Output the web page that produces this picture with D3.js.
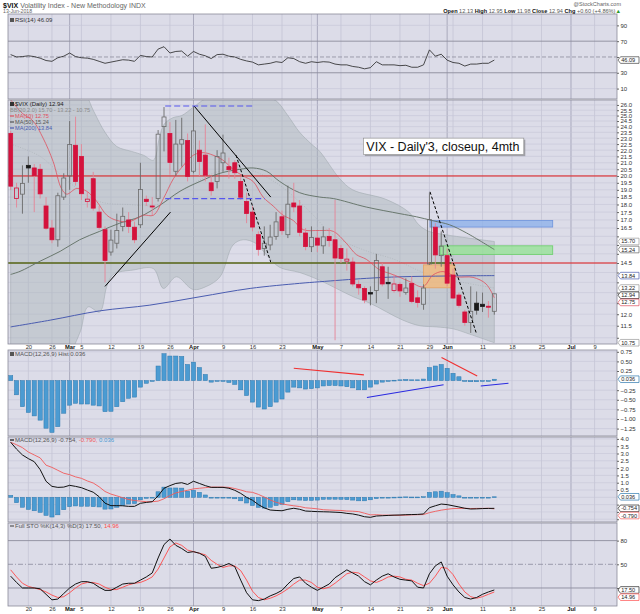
<!DOCTYPE html>
<html lang="en">
<head>
<meta charset="UTF-8">
<title>$VIX Daily - StockCharts style</title>
<script src="https://d3js.org/d3.v7.min.js"></script>
<style>
  body { margin: 0; background: #fff; }
  svg text { font-family: "Liberation Sans", Arial, sans-serif; }
</style>
</head>
<body>
<svg id="chart" width="640" height="614"></svg>
<script>
// ---- data ----
const holidays = ["2018-02-19", "2018-03-30", "2018-05-28", "2018-07-04"];
const prevClose = 24.97; // close before the first bar

const opens = [23.4,18.4,18.7,20.8,20.6,20.5,17.9,16.5,15.8,18.5, 20.0,22.4,21.5,18.2,19.8,17.5,16.4,15.1,15.6,16.6,
  17.0,16.55,16.7,18.35,17.9,18.4,24.0,23.4,20.35,22.5, 22.8,20.35,22.0,21.6,19.5,19.6,21.0,20.7,21.0,19.6,
  18.2,17.5,16.1,15.3,15.5,16.0,17.2,16.1,18.1,17.9, 16.2,15.4,15.9,15.45,16.0,15.8,15.3,14.6,14.55,13.4,
  13.2,13.0,13.1,14.3,13.5,13.1,13.4,13.0,13.45,12.75, 12.45,14.45,16.55,14.9,14.9,13.87,12.88,12.1,11.64,12.5,
  12.45,12.36,12.13];
const highs = [23.6,19.5,20.8,21.5,20.9,20.9,18.5,17.0,18.8,20.2, 24.5,24.9,22.5,18.9,20.3,17.9,16.6,16.4,17.4,17.8,
  17.5,16.9,21.0,18.6,18.5,23.7,25.8,24.4,24.6,24.8, 23.4,25.9,22.8,24.2,20.0,22.0,23.3,21.4,21.2,19.9,
  18.8,17.9,16.3,16.6,16.7,17.5,17.6,19.3,19.5,18.3, 16.5,16.6,16.3,16.6,16.5,18.3,15.5,15.3,14.8,13.6,
  13.3,13.3,15.0,14.5,14.3,13.9,13.5,13.7,13.8,13.1, 13.4,18.8,16.8,16.3,15.3,14.2,13.0,12.2,13.3,13.05,
  13.0,12.6,12.95];
const lows = [19.0,17.8,17.4,19.5,17.5,18.4,16.4,15.6,15.4,18.3, 19.0,19.3,18.3,17.8,17.6,16.4,13.5,14.9,15.3,16.3,
  16.2,15.6,16.5,17.9,17.3,18.2,21.9,20.1,20.0,20.7, 19.6,20.2,20.0,19.6,18.6,19.1,20.3,19.8,19.8,18.3,
  16.8,16.3,14.9,14.9,15.2,15.8,16.1,15.9,17.5,16.0, 15.2,15.1,15.1,15.0,15.4,10.9,14.5,14.1,13.3,12.9,
  12.5,12.4,12.5,13.3,12.7,13.0,12.8,12.9,12.5,12.3, 12.2,14.4,14.2,14.3,13.3,12.7,12.3,11.5,11.2,11.98,
  12.1,11.85,11.98];
const closes = [19.26,19.13,19.46,20.60,20.02,18.72,16.49,15.80,18.59,19.85, 22.47,19.59,18.73,18.36,17.76,16.54,14.64,15.78,16.35,17.23,
  16.59,15.80,19.02,18.20,17.86,23.34,24.87,21.03,22.50,22.87, 19.97,23.62,21.10,20.06,18.94,21.49,21.77,20.47,20.24,18.49,
  17.41,16.56,15.25,15.60,15.96,16.88,16.34,18.02,17.84,16.24, 15.41,15.93,15.49,15.97,15.75,14.77,14.75,14.71,13.42,13.23,
  12.65,12.93,14.63,13.42,13.43,13.42,13.08,13.22,12.58,12.53, 13.22,17.02,14.94,15.43,13.46,12.74,12.40,11.64,12.13,12.18,
  12.35,12.34,12.94];

// overlays, sampled as [bar index, value]
const ma10 = [[0,26.5],[2,25.2],[3.8,24.5],[5.5,23.0],[7.2,21.1],[8.6,19.1],[9.5,18.7],[11.2,19.1],[12.9,18.9],[14.6,18.2],
  [16.3,17.3],[18,16.97],[20.2,16.9],[22.5,17.3],[24.2,17.3],[25.9,18.4],[27.6,19.8],[29.3,20.8],[31,21.6],[32.6,21.8],
  [34.3,21.6],[36,21.2],[37.7,20.5],[39.4,20.0],[41.1,19.6],[42.8,18.5],[44.5,17.9],[46.2,17.3],[47.9,16.97],[49.6,16.4],
  [52.4,16.35],[54.7,16.3],[56.9,15.6],[58.6,14.96],[60.3,14.7],[62.6,14.13],[64.3,13.95],[66,13.75],[67.7,13.53],[69.9,13.28],
  [71.6,13.87],[73.3,14.05],[75.6,13.78],[78.4,13.75],[80.6,13.42],[82,12.75]];
const ma50 = [[0,13.9],[1.6,14.06],[5,14.6],[8.4,15.14],[11.7,15.8],[15.1,16.3],[18.5,16.8],[21.9,17.2],[25.3,17.95],[28.7,18.9],
  [32.1,19.6],[35.5,20.2],[38.9,20.5],[41.1,20.6],[43.4,20.35],[45.6,19.6],[49,18.8],[52.4,18.5],[54.7,18.4],[60.3,17.83],
  [66,17.4],[68.8,17.2],[71.6,16.95],[74.4,16.7],[77.3,16.2],[82,15.24]];
const ma200 = [[0,11.45],[6.7,11.74],[15.1,12.15],[23.6,12.41],[32.1,12.8],[40.6,13.2],[49,13.45],[52.4,13.53],[60.3,13.7],[66,13.78],[74,13.82],[82,13.84]];
const bbUpper = [[0,36],[5,33],[10,29],[12,28],[14,25.5],[16,23.5],[18,22.3],[20.5,21.9],[22.5,21.6],[24.2,21.2],[25.2,23.0],[26,24.2],
  [27.5,24.8],[29,25.0],[31,25.8],[33,26.6],[36,27.2],[40,27.2],[43,26.8],[45,26.4],[47,25.0],[49,23.5],[51,22.5],[52.4,21.9],
  [55.8,19.8],[58,19.0],[63.6,18.35],[67.5,17.5],[69.2,16.7],[70.9,16.3],[73.7,16.1],[77.6,15.9],[82,15.7]];
const bbLower = [[0,7.5],[5,8.5],[9,9.8],[10.9,10.74],[11.9,11.32],[13.1,12.33],[15.1,12.1],[16.3,13.3],[17.4,13.9],[20.8,14.13],
  [24.2,14.2],[25.9,13.2],[28.1,13.78],[30.9,13.15],[33.2,13.3],[35.5,13.78],[37.7,15.5],[39.4,15.8],[41.5,15.6],[43.5,14.9],
  [45.6,14.27],[49,14.0],[52.4,13.6],[58.1,12.8],[60.9,12.5],[66.5,11.74],[69.4,11.5],[72.2,11.45],[75,11.37],[77.8,11.15],[82,10.8]];
const bbMid = [[0,22.5],[5,21.5],[10,19.5],[15,18.2],[20,18.0],[25,18.0],[30,19.2],[35,20.3],[40,20.5],[45,19.5],[50,17.8],
  [55,16.0],[60,15.2],[65,14.7],[70,14.0],[75,13.6],[82,13.22]];

// indicators, one value per bar
const rsi = [53,50,50.5,51.5,50.5,48.5,45.5,44.5,49,51, 55,50.5,49,48.5,47,44.5,42,43.5,45,46.5,
  46,44.5,52,50.5,50,60,63,55,57,57.5, 51,57,53.5,51.5,48,53,53.5,51,50,47,
  45,43.5,40,41,42,44,43,49,48,44, 42,44,43,44,43.5,41,40,40,38,37,
  35,36.5,44,40,40,40,39,39.5,37,37, 40,59,51,53.5,46,43,42,38.5,41,41, 42,42,46.09];
const macdHist = [0.13,-0.37,-0.68,-0.83,-0.92,-1.03,-1.24,-1.35,-1.2,-0.85, -0.64,-0.59,-0.61,-0.61,-0.64,-0.66,-0.81,-0.8,-0.68,-0.55,
  -0.46,-0.43,-0.17,-0.07,-0.01,0.38,0.70,0.64,0.64,0.63, 0.42,0.48,0.34,0.16,-0.04,-0.02,0.0,-0.05,-0.1,-0.24,
  -0.39,-0.56,-0.69,-0.74,-0.68,-0.56,-0.48,-0.3,-0.17,-0.19, -0.22,-0.21,-0.19,-0.14,-0.13,-0.13,-0.14,-0.16,-0.19,-0.24,
  -0.24,-0.17,-0.09,-0.04,-0.02,0.01,0.02,0.03,0.02,0.02, 0.04,0.34,0.38,0.42,0.32,0.19,0.1,0.0,-0.03,-0.03, -0.01,-0.01,0.036];
const macdLine = [3.77,3.3,2.9,2.65,2.44,1.9,1.1,0.75,0.68,0.7, 0.82,0.75,0.66,0.5,0.35,0.04,-0.4,-0.57,-0.57,-0.58,
  -0.62,-0.62,-0.41,-0.35,-0.3,0.1,0.62,0.8,0.95,1.0, 0.88,1.1,0.95,0.8,0.68,0.68,0.68,0.62,0.48,0.27,
  0.0,-0.2,-0.5,-0.72,-0.87,-0.9,-0.92,-0.82,-0.75,-0.82, -0.94,-0.96,-0.98,-0.99,-1.0,-1.02,-1.04,-1.1,-1.14,-1.22,
  -1.33,-1.37,-1.28,-1.26,-1.24,-1.22,-1.21,-1.19,-1.18,-1.17, -1.14,-0.71,-0.58,-0.46,-0.5,-0.58,-0.66,-0.75,-0.8,-0.79, -0.77,-0.76,-0.754];
const macdSignal = [3.77,3.6,3.4,3.1,2.9,2.7,2.2,2.05,1.85,1.65, 1.55,1.4,1.3,1.12,0.98,0.72,0.4,0.22,0.1,-0.03,
  -0.15,-0.22,-0.26,-0.3,-0.3,-0.26,-0.1,0.12,0.3,0.4, 0.48,0.58,0.62,0.66,0.7,0.7,0.7,0.68,0.6,0.5,
  0.38,0.34,0.2,0.02,-0.18,-0.34,-0.45,-0.52,-0.58,-0.63, -0.72,-0.75,-0.79,-0.85,-0.87,-0.89,-0.9,-0.94,-0.95,-0.98,
  -1.09,-1.2,-1.19,-1.22,-1.22,-1.23,-1.23,-1.22,-1.2,-1.19, -1.18,-1.05,-0.96,-0.88,-0.82,-0.77,-0.76,-0.75,-0.77,-0.76, -0.76,-0.75,-0.79];
const stoK = [35,27,20,20,20,19,12,5,6,13, 20,25,28,28,26,21,17,17,21,25, 26,26,30,34,39,58,75,82,74,70,
  65,66,64,60,45,46,48,51,47,30, 14,5,4,6,10,13,17,25,32,34, 26,21,17,21,25,33,38,43,39,35,
  28,24,30,35,38,34,31,30,29,21, 20,38,48,53,35,24,15,8,6,8, 12,15,17.5];
const stoD = [43,34,26,22,20,18,15,11,8,9, 14,20,25,27,27,25,21,18,18,21, 24,26,27,30,34,44,58,72,77,74,
  68,66,64,62,55,50,46,48,48,42, 30,16,8,5,7,10,14,19,25,30, 30,27,21,19,21,26,32,38,40,39,
  34,29,27,30,34,35,34,31,30,26, 23,26,35,46,45,37,25,15,9,7, 9,12,14.96];

// drawn annotations, in [bar index, value]
const trendLines = [
  { a: [16.0, 13.3], b: [27.1, 17.5], dash: null },
  { a: [31.1, 25.9], b: [44.1, 18.5], dash: null },
  { a: [38.2, 21.6], b: [44.1, 14.55], dash: "3,2" },
  { a: [71.1, 18.86], b: [79.0, 11.15], dash: "3,2" }
];
const blueDashes = [ { a: [26.2, 25.9], b: [41.1, 25.9] }, { a: [26.2, 18.4], b: [43.1, 18.4] } ];
const zones = [
  { i0: 71.1, i1: 91.9, v0: 16.56, v1: 16.97, fill: "#8fb2ea", stroke: "#6d93dd" },
  { i0: 72.8, i1: 91.9, v0: 14.96, v1: 15.45, fill: "#97e297", stroke: "#6bcf6b" },
  { i0: 70.0, i1: 75.3, v0: 13.23, v1: 14.4, fill: "#f3b97a", stroke: "#e6a060" }
];
const histLines = [
  { a: [48.0, 0.32], b: [59.9, 0.15], color: "#f03030" },
  { a: [73.05, 0.60], b: [79.1, 0.12], color: "#f03030" },
  { a: [60.4, -0.44], b: [73.4, -0.11], color: "#2a2ae0" },
  { a: [79.7, -0.14], b: [84.4, -0.07], color: "#2a2ae0" }
];
const noteBox = { i0: 59.8, i1: 87.0, vTop: 23.0, vBot: 21.64, text: "VIX - Daily'3, closeup, 4mth" };

const xTicks = [["2018-02-20","20"],["2018-02-26","26"],["2018-03-01","Mar"],["2018-03-05","5"],["2018-03-12","12"],
  ["2018-03-19","19"],["2018-03-26","26"],["2018-04-02","Apr"],["2018-04-09","9"],["2018-04-16","16"],["2018-04-23","23"],
  ["2018-05-01","May"],["2018-05-07","7"],["2018-05-14","14"],["2018-05-21","21"],["2018-05-29","29"],["2018-06-01","Jun"],
  ["2018-06-11","11"],["2018-06-18","18"],["2018-06-25","25"],["2018-07-02","Jul"],["2018-07-09","9"]];
const extraWeekLines = ["2018-04-30", "2018-06-04"];
const monthNames = ["Mar", "Apr", "May", "Jun", "Jul"];
const priceTicks = d3.range(11, 26.01, 0.5);
const rsiTicks = [10, 30, 50, 70, 90];
const histTicks = [0.75, 0.5, 0.25, -0.25, -0.5, -0.75, -1.0, -1.25];
const macdTicks = [4.0, 3.5, 3.0, 2.5, 2.0, 1.5, 1.0, 0.5, -0.5, -1.0, -1.5];
const stoTicks = [20, 50, 80];

// last values shown in boxes on the right axis
const mainBoxes = [[15.70, "15.70", "#999"], [15.24, "15.24", "#666"], [13.84, "13.84", "#4a5cb0"],
  [13.22, "13.22", "#999"], [12.94, "12.94", "#222"], [12.75, "12.75", "#e0505e"], [10.80, "10.75", "#999"]];
const rsiBoxes = [[46.09, "46.09", "#444"]];
const histBoxes = [[0.036, "0.036", "#2d78ae"]];
const macdBoxes = [[0.036, "0.036", "#2d78ae"], [-0.754, "-0.754", "#222"], [-0.790, "-0.790", "#f05a5a"]];
const stoBoxes = [[17.50, "17.50", "#222"], [14.96, "14.96", "#ff4a4a"]];

// ---- trading calendar ----
const fmtDay = d3.timeFormat("%Y-%m-%d");
const days = [];
for (let d = new Date(2018, 1, 14); days.length < 104; d = d3.timeDay.offset(d, 1)) {
  const wd = d.getDay();
  if (wd === 0 || wd === 6 || holidays.includes(fmtDay(d))) continue;
  days.push(fmtDay(d));
}
const dayIndex = s => days.indexOf(s);

// ---- layout ----
const svg = d3.select("#chart");
const X0 = 8, X1 = 617;
const BG = "#dcdce8";
const x = d3.scaleLinear().domain([-0.45, 102.8]).range([X0, X1]);

const panels = {
  rsi:  { top: 14,  bottom: 99,  y: d3.scaleLinear().domain([-3.2, 104.4]).range([99, 14]) },
  main: { top: 100, bottom: 344, y: d3.scaleLog().domain([10.75, 26.48]).range([344, 100]) },
  hist: { top: 350, bottom: 436, y: d3.scaleLinear().domain([-1.443, 0.797]).range([436, 350]) },
  macd: { top: 437, bottom: 522, y: d3.scaleLinear().domain([-1.69, 4.13]).range([522, 437]) },
  sto:  { top: 523, bottom: 606, y: d3.scaleLinear().domain([-2.8, 102.3]).range([606, 523]) }
};

const defs = svg.append("defs");
Object.entries(panels).forEach(([name, p]) => {
  defs.append("clipPath").attr("id", "clip-" + name)
    .append("rect").attr("x", X0).attr("y", p.top).attr("width", X1 - X0).attr("height", p.bottom - p.top);
  svg.append("rect").attr("x", X0).attr("y", p.top).attr("width", X1 - X0).attr("height", p.bottom - p.top)
    .attr("fill", BG);
  p.g = svg.append("g").attr("clip-path", `url(#clip-${name})`);
});

// vertical grid, through every panel
const weekDates = xTicks.map(t => t[0]).concat(extraWeekLines);
Object.values(panels).forEach(p => {
  weekDates.forEach(ds => {
    const isMonth = xTicks.some(t => t[0] === ds && monthNames.includes(t[1]));
    p.g.append("line").attr("x1", x(dayIndex(ds))).attr("x2", x(dayIndex(ds)))
      .attr("y1", p.top).attr("y2", p.bottom)
      .attr("stroke", isMonth ? "#a4a4b8" : "#c2c2d2").attr("stroke-width", isMonth ? 0.9 : 0.7);
  });
});

function hGrid(p, ticks, color, width, dash) {
  ticks.forEach(t => {
    p.g.append("line").attr("x1", X0).attr("x2", X1).attr("y1", p.y(t)).attr("y2", p.y(t))
      .attr("stroke", color).attr("stroke-width", width).attr("stroke-dasharray", dash || null);
  });
}
hGrid(panels.main, priceTicks, "#c6c6d6", 0.6);
hGrid(panels.rsi, [10, 90], "#c6c6d6", 0.6);
hGrid(panels.rsi, [30, 70], "#8c8c9c", 0.9);
hGrid(panels.rsi, [50], "#8c8c9c", 0.8, "4,2");
hGrid(panels.hist, histTicks.concat([0]), "#c6c6d6", 0.6);
hGrid(panels.macd, macdTicks.concat([0]), "#c6c6d6", 0.6);
hGrid(panels.sto, [20, 80], "#8c8c9c", 0.9);
hGrid(panels.sto, [50], "#8c8c9c", 0.8, "5,2,1,2");

// ---- main panel ----
const M = panels.main;
const pt = d => [x(d[0]), M.y(d[1])];
const smooth = d3.line().curve(d3.curveCatmullRom);

// bollinger shade
const upPath = smooth(bbUpper.map(pt));
const loPath = smooth(bbLower.slice().reverse().map(pt));
M.g.append("path").attr("d", upPath + "L" + loPath.slice(1) + "Z")
  .attr("fill", "#a9b4b8").attr("fill-opacity", 0.45).attr("stroke", "#9aa4a8").attr("stroke-width", 0.5);
M.g.append("path").attr("d", smooth(bbMid.map(pt))).attr("fill", "none")
  .attr("stroke", "#a8aeb4").attr("stroke-width", 0.6).attr("stroke-dasharray", "1,1.5");

// zones
zones.forEach(z => {
  M.g.append("rect").attr("x", x(z.i0)).attr("y", M.y(z.v1))
    .attr("width", x(z.i1) - x(z.i0)).attr("height", M.y(z.v0) - M.y(z.v1))
    .attr("fill", z.fill).attr("fill-opacity", 0.8).attr("stroke", z.stroke).attr("stroke-width", 0.8);
});

// horizontal levels
[20.0, 14.5].forEach(v => {
  M.g.append("line").attr("x1", X0).attr("x2", X1).attr("y1", M.y(v)).attr("y2", M.y(v))
    .attr("stroke", "#e01818").attr("stroke-width", 1);
});
[[-0.45, 58.3], [71.0, 74.7]].forEach(seg => {
  M.g.append("line").attr("x1", x(seg[0])).attr("x2", x(seg[1])).attr("y1", M.y(14.5)).attr("y2", M.y(14.5))
    .attr("stroke", "#108a10").attr("stroke-width", 1.1);
});

// moving averages
M.g.append("path").attr("d", smooth(ma200.map(pt))).attr("fill", "none").attr("stroke", "#4a5cb0").attr("stroke-width", 1);
M.g.append("path").attr("d", smooth(ma50.map(pt))).attr("fill", "none").attr("stroke", "#5f6e62").attr("stroke-width", 0.9);
M.g.append("path").attr("d", smooth(ma10.map(pt))).attr("fill", "none").attr("stroke", "#e0505e").attr("stroke-width", 0.8);

// candles
closes.forEach((c, i) => {
  const o = opens[i], h = highs[i], l = lows[i];
  const prev = i ? closes[i - 1] : prevClose;
  const up = c >= prev;
  const col = up ? "#1a1a1a" : "#d4123c";
  const wickCol = up ? "#6a6a6a" : "#e58596";
  const cx = x(i);
  const yt = M.y(Math.max(o, c)), yb = M.y(Math.min(o, c));
  M.g.append("line").attr("x1", cx).attr("x2", cx).attr("y1", M.y(h)).attr("y2", yt).attr("stroke", wickCol).attr("stroke-width", 0.9);
  M.g.append("line").attr("x1", cx).attr("x2", cx).attr("y1", yb).attr("y2", M.y(l)).attr("stroke", wickCol).attr("stroke-width", 0.9);
  const filled = c < o;
  M.g.append("rect").attr("x", cx - 2).attr("y", yt).attr("width", 4).attr("height", Math.max(yb - yt, 1))
    .attr("fill", filled ? col : "none")
    .attr("stroke", filled ? col : (up ? "#6a6a6a" : col)).attr("stroke-width", 0.8);
});

// trend lines
trendLines.forEach(t => {
  M.g.append("line").attr("x1", x(t.a[0])).attr("y1", M.y(t.a[1])).attr("x2", x(t.b[0])).attr("y2", M.y(t.b[1]))
    .attr("stroke", "#000").attr("stroke-width", 1).attr("stroke-dasharray", t.dash);
});
blueDashes.forEach(t => {
  M.g.append("line").attr("x1", x(t.a[0])).attr("y1", M.y(t.a[1])).attr("x2", x(t.b[0])).attr("y2", M.y(t.b[1]))
    .attr("stroke", "#5656ee").attr("stroke-width", 1.2).attr("stroke-dasharray", "6,3");
});

// note box
const nbx = x(noteBox.i0), nby = M.y(noteBox.vTop);
const nbw = x(noteBox.i1) - nbx, nbh = M.y(noteBox.vBot) - nby;
M.g.append("rect").attr("x", nbx + 1.5).attr("y", nby + 1.5).attr("width", nbw).attr("height", nbh).attr("fill", "#a0a0a8");
M.g.append("rect").attr("x", nbx).attr("y", nby).attr("width", nbw).attr("height", nbh)
  .attr("fill", "#fff").attr("stroke", "#888").attr("stroke-width", 0.6);
M.g.append("text").attr("x", nbx + 3).attr("y", nby + nbh - 4).attr("font-size", 12.5).attr("fill", "#111").text(noteBox.text);

// ---- RSI ----
const R = panels.rsi;
R.g.append("path").datum(rsi).attr("d", d3.line().x((d, i) => x(i)).y(d => R.y(d)))
  .attr("fill", "none").attr("stroke", "#222").attr("stroke-width", 0.8);

// ---- MACD histogram panels ----
function histBars(p) {
  macdHist.forEach((v, i) => {
    const y0 = p.y(0), y1 = p.y(v);
    p.g.append("rect").attr("x", x(i) - 2.1).attr("y", Math.min(y0, y1)).attr("width", 4.2)
      .attr("height", Math.max(Math.abs(y1 - y0), 0.8))
      .attr("fill", "#4b9bd2").attr("stroke", "#2d78ae").attr("stroke-width", 0.5);
  });
}
histBars(panels.hist);
histLines.forEach(t => {
  const p = panels.hist;
  p.g.append("line").attr("x1", x(t.a[0])).attr("y1", p.y(t.a[1])).attr("x2", x(t.b[0])).attr("y2", p.y(t.b[1]))
    .attr("stroke", t.color).attr("stroke-width", 1.1);
});

const C = panels.macd;
histBars(C);
const perBar = ys => d3.line().x((d, i) => x(i)).y(d => ys(d));
C.g.append("path").datum(macdSignal).attr("d", perBar(C.y)).attr("fill", "none").attr("stroke", "#f05a5a").attr("stroke-width", 0.9);
C.g.append("path").datum(macdLine).attr("d", perBar(C.y)).attr("fill", "none").attr("stroke", "#111").attr("stroke-width", 1);

// ---- STO ----
const S = panels.sto;
S.g.append("path").datum(stoD).attr("d", perBar(S.y)).attr("fill", "none").attr("stroke", "#ff4a4a").attr("stroke-width", 0.9);
S.g.append("path").datum(stoK).attr("d", perBar(S.y)).attr("fill", "none").attr("stroke", "#111").attr("stroke-width", 1);

// panel borders on top
Object.values(panels).forEach(p => {
  svg.append("rect").attr("x", X0).attr("y", p.top).attr("width", X1 - X0).attr("height", p.bottom - p.top)
    .attr("fill", "none").attr("stroke", "#8a8a9a").attr("stroke-width", 0.8);
});

// ---- value boxes: stacked so they do not collide ----
function placeBoxes(p, specs) {
  const items = specs.map(s => ({ v: s[0], label: s[1], color: s[2], y: p.y(s[0]) })).sort((a, b) => a.y - b.y);
  for (let k = 1; k < items.length; k++) {
    if (items[k].y - items[k - 1].y < 7.2) items[k].y = items[k - 1].y + 7.2;
  }
  items.forEach(b => { if (b.y > p.bottom + 2) b.y = p.bottom + 2; });
  return items;
}
const boxSets = [
  [M, placeBoxes(M, mainBoxes)], [R, placeBoxes(R, rsiBoxes)], [panels.hist, placeBoxes(panels.hist, histBoxes)],
  [C, placeBoxes(C, macdBoxes)], [S, placeBoxes(S, stoBoxes)]
];

// ---- axes ----
function styleAxis(g) {
  g.select(".domain").remove();
  g.selectAll("text").attr("font-size", 6).attr("fill", "#333");
  g.selectAll("line").attr("stroke", "#666");
}
function rightAxis(p, ticks, fmt, boxes) {
  const g = svg.append("g").attr("transform", `translate(${X1},0)`)
    .call(d3.axisRight(p.y).tickValues(ticks).tickFormat(fmt).tickSize(2).tickPadding(1.5))
    .call(styleAxis);
  // labels hidden behind a value box are dropped, as on the original
  g.selectAll(".tick").filter(t => boxes.some(b => Math.abs(p.y(t) - b.y) < 6.2)).select("text").remove();
}
rightAxis(M, priceTicks, d3.format(".1f"), boxSets[0][1]);
rightAxis(R, rsiTicks, d3.format("d"), boxSets[1][1]);
rightAxis(panels.hist, histTicks, d3.format(".2f"), boxSets[2][1]);
rightAxis(C, macdTicks, d3.format(".1f"), boxSets[3][1]);
rightAxis(S, stoTicks, d3.format("d"), boxSets[4][1]);

boxSets.forEach(([p, items]) => {
  items.forEach(b => {
    const g = svg.append("g");
    g.append("path").attr("d", `M${X1 + 1},${b.y} L${X1 + 3.5},${b.y - 3.3} H${X1 + 22} V${b.y + 3.3} H${X1 + 3.5} Z`)
      .attr("fill", "#fff").attr("stroke", b.color).attr("stroke-width", 0.7);
    g.append("text").attr("x", X1 + 4.2).attr("y", b.y + 2).attr("font-size", 5.6).attr("fill", "#222").text(b.label);
  });
});

function dateAxis(yPos) {
  const g = svg.append("g").attr("transform", `translate(0,${yPos})`)
    .call(d3.axisBottom(x).tickValues(xTicks.map(t => dayIndex(t[0])))
      .tickFormat((d, i) => xTicks[i][1]).tickSize(0).tickPadding(1))
    .call(styleAxis);
  g.selectAll("text").attr("font-size", 5.8)
    .attr("font-weight", (d, i) => monthNames.includes(xTicks[i][1]) ? "bold" : null)
    .attr("fill", (d, i) => monthNames.includes(xTicks[i][1]) ? "#111" : "#333");
}
dateAxis(M.bottom);
dateAxis(S.bottom);

// ---- texts ----
function textRow(xp, yp, parts, size, anchor) {
  const t = svg.append("text").attr("x", xp).attr("y", yp).attr("font-size", size || 6)
    .attr("text-anchor", anchor || "start");
  parts.forEach(p => t.append("tspan").attr("fill", p.c || "#444").attr("font-weight", p.b ? "bold" : null).text(p.t));
  return t;
}
textRow(3, 8, [{ t: "$VIX ", c: "#111", b: true }, { t: "Volatility Index - New Methodology  INDX", c: "#666" }], 7);
textRow(3, 13.2, [{ t: "13-Jun-2018", c: "#666" }], 5.2);
textRow(621, 6, [{ t: "@StockCharts.com", c: "#666" }], 5.5, "end");
textRow(621, 13, [
  { t: "Open", c: "#111", b: true }, { t: " 12.13 ", c: "#555" },
  { t: "High", c: "#111", b: true }, { t: " 12.95 ", c: "#555" },
  { t: "Low", c: "#111", b: true }, { t: " 11.98 ", c: "#555" },
  { t: "Close", c: "#111", b: true }, { t: " 12.94 ", c: "#555" },
  { t: "Chg", c: "#111", b: true }, { t: " +0.60 (+4.86%)", c: "#555" }, { t: "▲", c: "#2a9a2a" }
], 5.6, "end");

function icon(xp, yp, color) {
  svg.append("rect").attr("x", xp).attr("y", yp - 4).attr("width", 4).attr("height", 4).attr("fill", color);
}
function keyLine(xp, yp, color) {
  svg.append("line").attr("x1", xp).attr("x2", xp + 4).attr("y1", yp - 2).attr("y2", yp - 2)
    .attr("stroke", color).attr("stroke-width", 1.2);
}
icon(10, 22, "#555");
textRow(15, 22, [{ t: "RSI(14) 46.09", c: "#333" }], 6);

icon(10, 106, "#333");
textRow(15, 106, [{ t: "$VIX (Daily) 12.94", c: "#222" }], 6);
textRow(10, 112, [{ t: "BB(20,2.0) 15.70 - 13.22 - 10.75", c: "#8a8a8a" }], 5.6);
keyLine(10, 118, "#e0505e");
textRow(15, 118, [{ t: "MA(10) 12.75", c: "#e0505e" }], 5.6);
keyLine(10, 124, "#555");
textRow(15, 124, [{ t: "MA(50) 15.24", c: "#555" }], 5.6);
keyLine(10, 130, "#4a5cb0");
textRow(15, 130, [{ t: "MA(200) 13.84", c: "#4a5cb0" }], 5.6);

icon(10, 356, "#555");
textRow(15, 356, [{ t: "MACD(12,26,9) Hist 0.036", c: "#555" }], 6);

keyLine(10, 442, "#111");
textRow(15, 442, [{ t: "MACD(12,26,9) -0.754, ", c: "#555" }, { t: "-0.790, ", c: "#f05a5a" }, { t: "0.036", c: "#4b9bd2" }], 6);

keyLine(10, 528, "#555");
textRow(15, 528, [{ t: "Full STO %K(14,3) %D(3) 17.50, ", c: "#555" }, { t: "14.96", c: "#ff4a4a" }], 6);
</script>
</body>
</html>
